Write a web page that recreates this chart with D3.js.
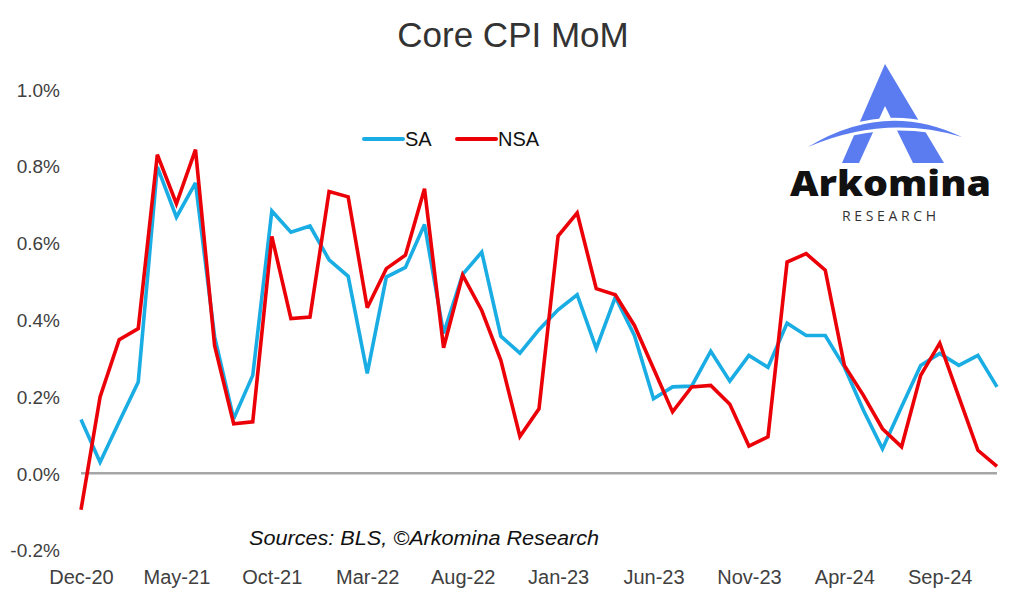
<!DOCTYPE html>
<html>
<head>
<meta charset="utf-8">
<script src="https://cdn.jsdelivr.net/npm/d3@7"></script>
<style>
  html, body { margin: 0; padding: 0; background: #fff; }
  svg { display: block; }
</style>
</head>
<body>
<svg id="chart" width="1024" height="597"></svg>
<script>
const months = ["Dec-20","Jan-21","Feb-21","Mar-21","Apr-21","May-21","Jun-21","Jul-21","Aug-21","Sep-21","Oct-21","Nov-21",
  "Dec-21","Jan-22","Feb-22","Mar-22","Apr-22","May-22","Jun-22","Jul-22","Aug-22","Sep-22","Oct-22","Nov-22",
  "Dec-22","Jan-23","Feb-23","Mar-23","Apr-23","May-23","Jun-23","Jul-23","Aug-23","Sep-23","Oct-23","Nov-23",
  "Dec-23","Jan-24","Feb-24","Mar-24","Apr-24","May-24","Jun-24","Jul-24","Aug-24","Sep-24","Oct-24","Nov-24","Dec-24"];

const saValues = [0.140,0.029,0.134,0.238,0.798,0.667,0.756,0.356,0.142,0.255,0.683,0.628,
  0.644,0.556,0.513,0.260,0.511,0.536,0.648,0.364,0.518,0.576,0.357,0.313,
  0.374,0.426,0.465,0.325,0.459,0.359,0.194,0.225,0.227,0.318,0.240,0.307,
  0.276,0.391,0.359,0.359,0.277,0.164,0.064,0.173,0.281,0.312,0.281,0.307,0.225];

const nsaValues = [-0.095,0.199,0.348,0.377,0.830,0.702,0.843,0.333,0.129,0.134,0.617,0.403,
  0.407,0.734,0.720,0.431,0.533,0.568,0.741,0.327,0.516,0.424,0.294,0.096,
  0.168,0.618,0.678,0.481,0.465,0.385,0.273,0.160,0.225,0.229,0.180,0.071,
  0.095,0.550,0.572,0.529,0.281,0.203,0.116,0.069,0.255,0.339,0.199,0.060,0.018];

const yTicks = [-0.2, 0.0, 0.2, 0.4, 0.6, 0.8, 1.0];
const xTickLabels = ["Dec-20","May-21","Oct-21","Mar-22","Aug-22","Jan-23","Jun-23","Nov-23","Apr-24","Sep-24"];
const seriesNames = ["SA", "NSA"];
const seriesColors = ["#19ADE4", "#EC0007"];

const svg = d3.select("#chart");
const font = "'Liberation Sans', Arial, Helvetica, sans-serif";

const x = d3.scalePoint().domain(months).range([81, 997]);
const y = d3.scaleLinear().domain([0, 1.0]).range([473.3, 89.3]);

// Title
svg.append("text")
  .attr("x", 513).attr("y", 47)
  .attr("text-anchor", "middle")
  .attr("font-family", font).attr("font-size", 35)
  .attr("fill", "#333333")
  .text("Core CPI MoM");

// Y axis
const yAxis = svg.append("g")
  .attr("transform", "translate(60,0)")
  .call(d3.axisLeft(y).tickValues(yTicks).tickSize(0).tickPadding(0)
    .tickFormat(d => d.toFixed(1) + "%"));
yAxis.select(".domain").remove();
yAxis.selectAll("text")
  .attr("font-family", font).attr("font-size", 19)
  .attr("fill", "#404040").attr("dy", "0.36em");

// X axis labels
const xAxis = svg.append("g")
  .attr("transform", "translate(0,584)")
  .call(d3.axisBottom(x).tickValues(xTickLabels).tickSize(0).tickPadding(0));
xAxis.select(".domain").remove();
xAxis.selectAll("text")
  .attr("font-family", font).attr("font-size", 20)
  .attr("fill", "#404040").attr("dy", "0");

// zero line
svg.append("line")
  .attr("x1", x(months[0])).attr("x2", x(months[months.length - 1]))
  .attr("y1", y(0)).attr("y2", y(0))
  .attr("stroke", "#A6A6A6").attr("stroke-width", 2.5);

// Lines
const line = d3.line().x((d, i) => x(months[i])).y(d => y(d));
[saValues, nsaValues].forEach((vals, k) => {
  svg.append("path")
    .datum(vals)
    .attr("d", line)
    .attr("fill", "none")
    .attr("stroke", seriesColors[k])
    .attr("stroke-width", 3.6)
    .attr("stroke-linejoin", "miter")
    .attr("stroke-miterlimit", 3);
});

// Legend
const legendX = [364, 457];
seriesNames.forEach((name, k) => {
  const g = svg.append("g");
  g.append("line")
    .attr("x1", legendX[k]).attr("x2", legendX[k] + 39)
    .attr("y1", 139).attr("y2", 139)
    .attr("stroke", seriesColors[k]).attr("stroke-width", 4)
    .attr("stroke-linecap", "round");
  g.append("text")
    .attr("x", legendX[k] + 41).attr("y", 146)
    .attr("font-family", font).attr("font-size", 20)
    .attr("fill", "#111111")
    .text(name);
});

// Sources
svg.append("text")
  .attr("x", 249).attr("y", 545)
  .attr("font-family", font).attr("font-size", 20)
  .attr("font-style", "italic")
  .attr("fill", "#111111")
  .attr("textLength", 350).attr("lengthAdjust", "spacingAndGlyphs")
  .text("Sources: BLS, \u00A9Arkomina Research");

// Logo
const logo = svg.append("g");
logo.append("path")
  .attr("d", "M885,64 L842,163 L859,163 L885,106 L913,163 L944,163 Z")
  .attr("fill", "#5B7CF0");
logo.append("path")
  .attr("d", "M808,147 Q885,100 962,137 Q885,114 808,147 Z")
  .attr("fill", "#ffffff").attr("stroke", "#ffffff").attr("stroke-width", 6);
logo.append("path")
  .attr("d", "M808,147 Q885,100 962,137 Q885,114 808,147 Z")
  .attr("fill", "#5B7CF0");
logo.append("text")
  .attr("x", 790).attr("y", 196)
  .attr("font-family", "'Open Sans', 'Noto Sans', sans-serif")
  .attr("font-weight", 800).attr("font-size", 35)
  .attr("fill", "#111111")
  .attr("textLength", 201).attr("lengthAdjust", "spacingAndGlyphs")
  .text("Arkomina");
logo.append("text")
  .attr("x", 842).attr("y", 221)
  .attr("font-family", "'Open Sans', 'Noto Sans', sans-serif")
  .attr("font-size", 14)
  .attr("fill", "#333333")
  .attr("textLength", 94).attr("lengthAdjust", "spacing")
  .text("RESEARCH");
</script>
</body>
</html>
